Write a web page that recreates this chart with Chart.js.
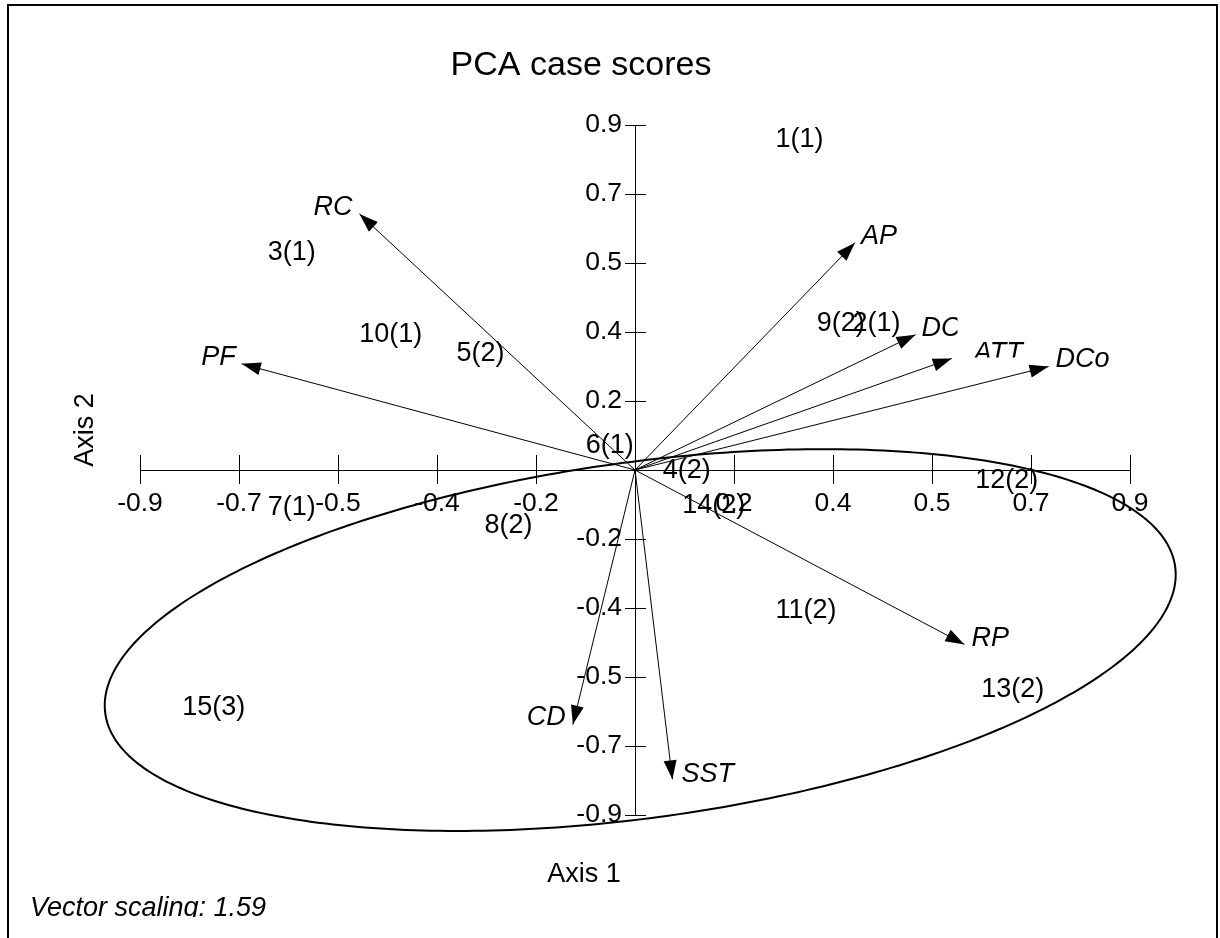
<!DOCTYPE html>
<html>
<head>
<meta charset="utf-8">
<title>PCA case scores</title>
<script src="https://cdn.jsdelivr.net/npm/chart.js@4.4.1/dist/chart.umd.min.js"></script>
<style>
  html, body { margin: 0; padding: 0; background: #fff; }
  canvas { display: block; }
</style>
</head>
<body>
<canvas id="pca" width="1220" height="938"></canvas>
<script>
// Case scores on the first two principal axes (label = case(group))
const caseLabels = ['1(1)', '2(1)', '3(1)', '4(2)', '5(2)', '6(1)', '7(1)', '8(2)',
                    '9(2)', '10(1)', '11(2)', '12(2)', '13(2)', '14(2)', '15(3)'];
const caseAxis1 = [0.299, 0.439, -0.624, 0.094, -0.281, -0.046, -0.624, -0.230,
                   0.374, -0.444, 0.311, 0.676, 0.687, 0.143, -0.766];
const caseAxis2 = [0.861, 0.381, 0.568, -0.002, 0.303, 0.063, -0.098, -0.145,
                   0.381, 0.353, -0.367, -0.028, -0.573, -0.094, -0.620];

// Variable loadings, already multiplied by the vector scaling
const varLabels = ['AP', 'DC', 'ATT', 'DCo', 'RP', 'SST', 'CD', 'PF', 'RC'];
const varAxis1 = [0.400, 0.510, 0.576, 0.752, 0.599, 0.068, -0.113, -0.715, -0.501];
const varAxis2 = [0.593, 0.353, 0.291, 0.270, -0.455, -0.807, -0.664, 0.277, 0.668];
const vectorScaling = 1.59;

// Tick positions and their printed (one-decimal) labels
const tickValues = [-0.9, -0.72, -0.54, -0.36, -0.18, 0, 0.18, 0.36, 0.54, 0.72, 0.9];
const tickLabels = ['-0.9', '-0.7', '-0.5', '-0.4', '-0.2', '', '0.2', '0.4', '0.5', '0.7', '0.9'];

// Confidence ellipse around the cases: centre, spread along each axis, correlation
const ellipseCentre = [0.0095, -0.4436];
const ellipseSpread = [0.9736, 0.4980];
const ellipseCorr = 0.3428;

// ---------------------------------------------------------------------------
const FONT = "'Liberation Sans', Arial, Helvetica, sans-serif";
const INK = '#000';
const Y_LABEL_GAP = 13;

// Where each vector's name sits relative to its arrow tip (px), and clipping
const varLabelNudge = {
  AP: [6, 1], DC: [6, 1], ATT: [22, 3], DCo: [7, 0], RP: [7, 2],
  SST: [9, 3], CD: [-7, 0], PF: [-6, 1], RC: [-7, 1]
};
const varLabelClip = { ATT: { bottom: -1 }, DC: { right: 42 } };

function tickLabelFor(value) {
  const i = tickValues.findIndex(v => Math.abs(v - value) < 1e-9);
  return i >= 0 ? tickLabels[i] : '';
}
function fixedTicks(scale) {
  scale.ticks = tickValues.map(v => ({ value: v }));
}

const datasets = [{
  label: 'Cases',
  kind: 'cases',
  data: caseAxis1.map((x, i) => ({ x, y: caseAxis2[i] })),
  pointRadius: 0,
  pointHoverRadius: 0,
  showLine: false
}];
varLabels.forEach((name, i) => {
  datasets.push({
    label: name,
    kind: 'vector',
    data: [{ x: 0, y: 0 }, { x: varAxis1[i], y: varAxis2[i] }],
    showLine: true,
    borderColor: INK,
    borderWidth: 1,
    pointRadius: 0,
    pointHoverRadius: 0,
    tension: 0,
    fill: false
  });
});

const biplotDecor = {
  id: 'biplotDecor',
  beforeDraw(chart) {
    const { ctx, width, height } = chart;
    ctx.save();
    ctx.fillStyle = '#fff';
    ctx.fillRect(0, 0, width, height);
    ctx.restore();

    // keep the vertical axis labels clear of the crossing tick marks
    const items = chart.scales.y.getLabelItems();
    if (!items._gapApplied) {
      items.forEach(it => { it.options.translation[0] -= Y_LABEL_GAP; });
      items._gapApplied = true;
    }
  },
  afterDraw(chart) {
    const { ctx, scales: { x, y } } = chart;
    const x0 = x.getPixelForValue(0);
    const y0 = y.getPixelForValue(0);
    ctx.save();
    ctx.strokeStyle = INK;
    ctx.fillStyle = INK;

    // tick marks crossing both axes
    ctx.lineWidth = 1;
    ctx.beginPath();
    tickValues.forEach(v => {
      if (v === 0) return;
      const px = Math.round(x.getPixelForValue(v)) + 0.5;
      ctx.moveTo(px, Math.round(y0) - 15);
      ctx.lineTo(px, Math.round(y0) + 14);
      const py = Math.round(y.getPixelForValue(v)) + 0.5;
      ctx.moveTo(Math.round(x0) - 10, py);
      ctx.lineTo(Math.round(x0) + 11, py);
    });
    ctx.stroke();

    // confidence ellipse
    const [cx, cy] = ellipseCentre;
    const [sx, sy] = ellipseSpread;
    const k = Math.sqrt(1 - ellipseCorr * ellipseCorr);
    ctx.lineWidth = 2;
    ctx.beginPath();
    for (let d = 0; d <= 360; d += 1) {
      const t = d * Math.PI / 180;
      const ex = cx + sx * Math.cos(t);
      const ey = cy + sy * (ellipseCorr * Math.cos(t) + k * Math.sin(t));
      const px = x.getPixelForValue(ex);
      const py = y.getPixelForValue(ey);
      if (d === 0) ctx.moveTo(px, py); else ctx.lineTo(px, py);
    }
    ctx.closePath();
    ctx.stroke();

    // arrowheads and vector names
    ctx.font = `italic 27px ${FONT}`;
    ctx.textBaseline = 'alphabetic';
    chart.data.datasets.forEach((ds, di) => {
      if (ds.kind !== 'vector') return;
      const pts = chart.getDatasetMeta(di).data;
      const a = pts[0], b = pts[1];
      const ang = Math.atan2(b.y - a.y, b.x - a.x);
      const L = 19, W = 6.5;
      const c = Math.cos(ang), s = Math.sin(ang);
      ctx.beginPath();
      ctx.moveTo(b.x, b.y);
      ctx.lineTo(b.x - L * c + W * s, b.y - L * s - W * c);
      ctx.lineTo(b.x - L * c - W * s, b.y - L * s + W * c);
      ctx.closePath();
      ctx.fill();

      const [dx, dy] = varLabelNudge[ds.label] || [6, 0];
      const clip = varLabelClip[ds.label];
      ctx.save();
      if (clip) {
        ctx.beginPath();
        const right = clip.right !== undefined ? b.x + clip.right : chart.width;
        const bottom = clip.bottom !== undefined ? b.y + clip.bottom : chart.height;
        ctx.rect(0, 0, right, bottom);
        ctx.clip();
      }
      ctx.textAlign = dx < 0 ? 'right' : 'left';
      ctx.fillText(ds.label, b.x + dx, b.y + dy);
      ctx.restore();
    });

    // case labels centred on their scores
    ctx.font = `27px ${FONT}`;
    ctx.textAlign = 'center';
    ctx.textBaseline = 'middle';
    const caseMeta = chart.getDatasetMeta(0).data;
    caseLabels.forEach((lab, i) => {
      ctx.fillText(lab, caseMeta[i].x, caseMeta[i].y);
    });

    // titles
    ctx.textBaseline = 'alphabetic';
    ctx.font = `34px ${FONT}`;
    ctx.fillText('PCA case scores', 581, 75);
    ctx.font = `27px ${FONT}`;
    ctx.fillText('Axis 1', 584, 882);
    ctx.save();
    ctx.translate(93, 430);
    ctx.rotate(-Math.PI / 2);
    ctx.fillText('Axis 2', 0, 0);
    ctx.restore();

    // scaling note (bottom of the frame cuts the descenders)
    ctx.save();
    ctx.beginPath();
    ctx.rect(0, 0, chart.width, 917);
    ctx.clip();
    ctx.font = `italic 27px ${FONT}`;
    ctx.textAlign = 'left';
    ctx.fillText('Vector scaling: ' + vectorScaling.toFixed(2), 30, 916);
    ctx.restore();

    // frame
    ctx.lineWidth = 2;
    ctx.beginPath();
    ctx.moveTo(8, chart.height);
    ctx.lineTo(8, 5);
    ctx.lineTo(1217, 5);
    ctx.lineTo(1217, chart.height);
    ctx.stroke();
    ctx.restore();
  }
};

const axisCommon = {
  type: 'linear',
  min: -0.9,
  max: 0.9,
  afterBuildTicks: fixedTicks,
  grid: { display: true, drawOnChartArea: false, drawTicks: false },
  border: { display: true, color: INK, width: 1 },
};

new Chart(document.getElementById('pca'), {
  type: 'scatter',
  data: { datasets },
  options: {
    responsive: false,
    animation: false,
    devicePixelRatio: 1,
    layout: { padding: { left: 140, right: 90, top: 125, bottom: 123 } },
    plugins: { legend: { display: false }, tooltip: { enabled: false }, title: { display: false } },
    events: [],
    scales: {
      x: Object.assign({}, axisCommon, {
        position: { y: 0 },
        ticks: {
          autoSkip: false, maxRotation: 0, padding: 18, color: INK,
          font: { family: FONT, size: 26.5 },
          callback: v => tickLabelFor(v)
        }
      }),
      y: Object.assign({}, axisCommon, {
        position: { x: 0 },
        ticks: {
          autoSkip: false, color: INK,
          font: { family: FONT, size: 26.5 },
          callback: v => tickLabelFor(v)
        }
      })
    }
  },
  plugins: [biplotDecor]
});
</script>
</body>
</html>
